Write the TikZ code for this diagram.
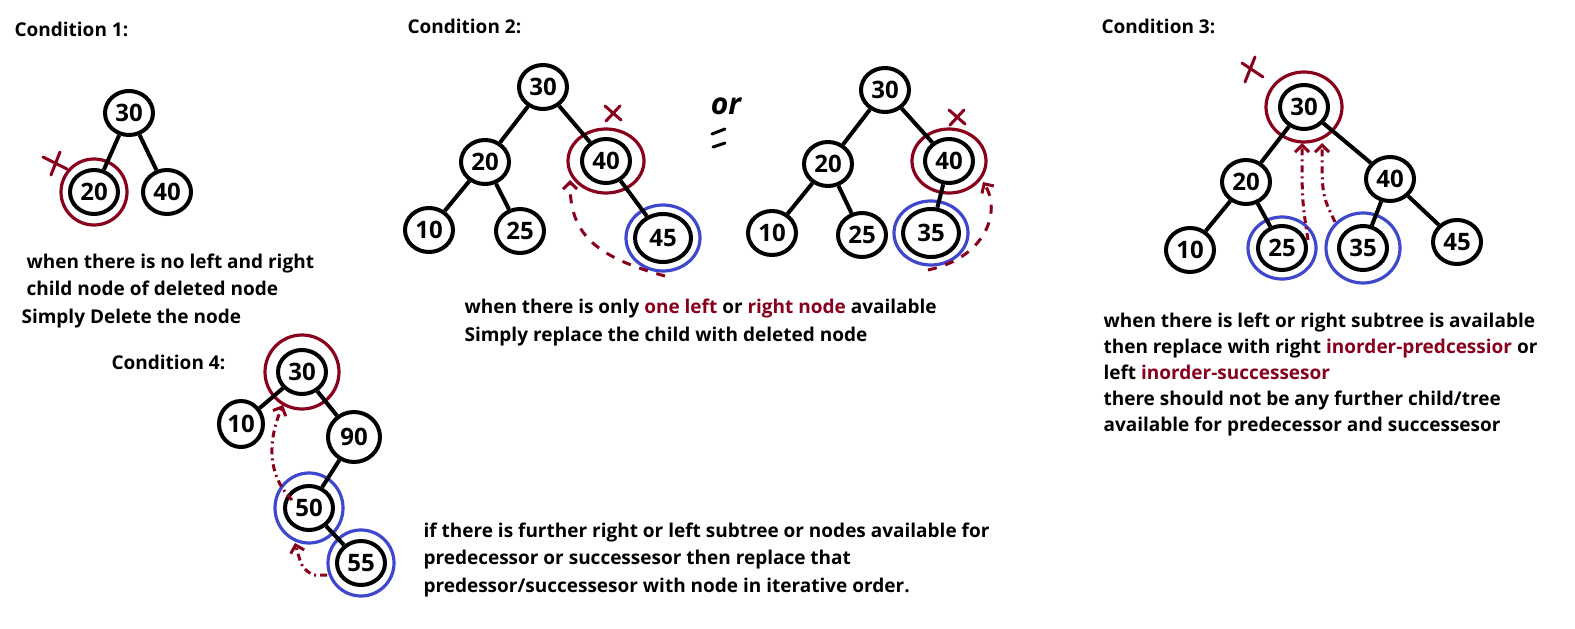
\documentclass[tikz,border=0pt]{standalone}
\usepackage{fontspec}
\setmainfont{Open Sans}
\usetikzlibrary{shapes.geometric,arrows.meta}
\definecolor{delred}{RGB}{136,0,27}
\definecolor{keepblue}{RGB}{63,72,204}

\begin{document}
\begin{tikzpicture}[x=1pt, y=-1pt, >={Straight Barb[length=7pt,width=14pt]},
    key/.style={ellipse, draw, line width=4pt, minimum width=48pt, minimum height=44pt,
        inner sep=0pt, font=\fontsize{24}{24}\selectfont\bfseries},
    link/.style={line width=4pt},
    delring/.style={draw=delred, line width=3.2pt},
    keepring/.style={draw=keepblue, line width=3.2pt},
    cross/.style={delred, line width=3pt, line cap=round},
    move/.style={->, delred, line width=3pt, dash pattern=on 9pt off 9pt},
    dotmove/.style={->, delred, line width=3pt, dash pattern=on 7pt off 4pt on 2pt off 4pt},
    note/.style={anchor=base west, align=left, font=\fontsize{19}{27.5}\selectfont\bfseries},
    head/.style={anchor=base west, font=\fontsize{19}{22}\selectfont\bfseries}]

    \useasboundingbox (0,0) rectangle (1575,629);

    % Condition 1: leaf node
    \node[head] (h1) at (11,36) {Condition 1:};
    \node[key] (a30) at (129,113) {30};
    \node[key] (a20) at (94,192) {20};
    \node[key] (a40) at (167,192) {40};
    \draw[delring] (a20) circle [x radius=33pt, y radius=33pt];
    \draw[cross] (43,157) -- (67,169) (60,152) -- (51,175);
    % base anchor sits on the last line
    \node[note] (t1) at (18,323) {\hspace*{5pt}when there is no left and right\\
        \hspace*{5pt}child node of deleted node\\Simply Delete the node};

    % Condition 2: one child, two cases
    \node[head] (h2) at (404,34) {Condition 2:};
    \node[key] (b30) at (543,87) {30};
    \node[key] (b20) at (485,162) {20};
    \node[key] (b40) at (606,161) {40};
    \node[key] (b10) at (429,230) {10};
    \node[key] (b25) at (520,231) {25};
    \node[key, minimum width=56pt, minimum height=48pt] (b45) at (663,238) {45};
    \draw[delring] (b40) circle [x radius=38pt, y radius=32pt];
    \draw[keepring] (b45) circle [x radius=37pt, y radius=33pt];
    \draw[cross] (605,106) -- (621,120) (620,106) -- (606,121);
    \coordinate (b45tail) at (665,276);
    \coordinate (b40head) at (570,180);
    \draw[move] (b45tail) .. controls (592,256) and (570,232) .. (b40head);

    \node[font=\fontsize{30}{30}\selectfont\itshape\bfseries] (orsign) at (726,106) {or};
    \draw[link, line width=3pt, line cap=round] (712,134) -- (725,129) (713,147) -- (725,143);

    \node[key] (c30) at (885,90) {30};
    \node[key] (c20) at (828,164) {20};
    \node[key] (c40) at (949,161) {40};
    \node[key] (c10) at (772,233) {10};
    \node[key] (c25) at (862,235) {25};
    \node[key, minimum width=56pt, minimum height=48pt] (c35) at (931,233) {35};
    \draw[delring] (c40) circle [x radius=37pt, y radius=32pt];
    \draw[keepring] (c35) circle [x radius=37pt, y radius=32pt];
    \draw[cross] (949,110) -- (965,124) (964,110) -- (950,125);
    \coordinate (c35tail) at (928,270);
    \coordinate (c40head) at (983,182);
    \draw[move] (c35tail) .. controls (985,258) and (1002,212) .. (c40head);

    \node[note] (t2) at (461,341) {when there is only {\color{delred}one left} or
        {\color{delred}right node} available\\Simply replace the child with deleted node};

    % Condition 3: two children
    \node[head] (h3) at (1098,34) {Condition 3:};
    \node[key] (d30) at (1304,107) {30};
    \node[key] (d20) at (1246,182) {20};
    \node[key] (d40) at (1390,179) {40};
    \node[key] (d10) at (1190,250) {10};
    \node[key] (d25) at (1282,248) {25};
    \node[key] (d35) at (1363,248) {35};
    \node[key] (d45) at (1457,242) {45};
    \draw[delring] (d30) circle [x radius=38pt, y radius=35pt];
    \draw[keepring] (d25) circle [x radius=34pt, y radius=31pt];
    \draw[keepring] (d35) circle [x radius=37pt, y radius=35pt];
    \draw[cross] (1242,63) -- (1263,77) (1255,57) -- (1245,82);
    \coordinate (d25tail) at (1308,240);
    \coordinate (d35tail) at (1335,222);
    \draw[dotmove] (d25tail) .. controls (1302,200) .. (1302,143);
    \draw[dotmove] (d35tail) .. controls (1322,195) .. (1322,143);

    \node[note, font=\fontsize{19}{26}\selectfont\bfseries] (t3) at (1100,431)
        {when there is left or right subtree is available\\
        then replace with right {\color{delred}inorder-predcessior} or\\
        left {\color{delred}inorder-successesor}\\
        there should not be any further child/tree\\
        available for predecessor and successesor};

    % Condition 4: successor with a subtree
    \node[head] (h4) at (108,369) {Condition 4:};
    \node[key] (e30) at (302,372) {30};
    \node[key, minimum width=44pt, minimum height=46pt] (e10) at (241,424) {10};
    \node[key, minimum width=52pt, minimum height=50pt] (e90) at (354,437) {90};
    \node[key] (e50) at (309,508) {50};
    \node[key] (e55) at (361,563) {55};
    \draw[delring] (e30) circle [x radius=37pt, y radius=37pt];
    \draw[keepring] (e50) circle [x radius=34pt, y radius=35pt];
    \draw[keepring] (e55) circle [x radius=33pt, y radius=33pt];
    \coordinate (e50tail) at (292,500);
    \coordinate (e55tail) at (327,575);
    \draw[dotmove] (e50tail) .. controls (262,470) and (272,430) .. (283,405);
    \draw[dotmove] (e55tail) -- (313,575) .. controls (302,568) .. (295,543);

    \node[note] (t4) at (420,592) {if there is further right or left subtree or nodes available for\\
        predecessor or successesor then replace that\\
        predessor/successesor with node in iterative order.};

    % tree edges
    \foreach \p/\c in {a30/a20, a30/a40,
                       b30/b20, b30/b40, b20/b10, b20/b25, b40/b45,
                       c30/c20, c30/c40, c20/c10, c20/c25, c40/c35,
                       d30/d20, d30/d40, d20/d10, d20/d25, d40/d35, d40/d45,
                       e30/e10, e30/e90, e90/e50, e50/e55}
        \draw[link] (\p) -- (\c);
\end{tikzpicture}
\end{document}
